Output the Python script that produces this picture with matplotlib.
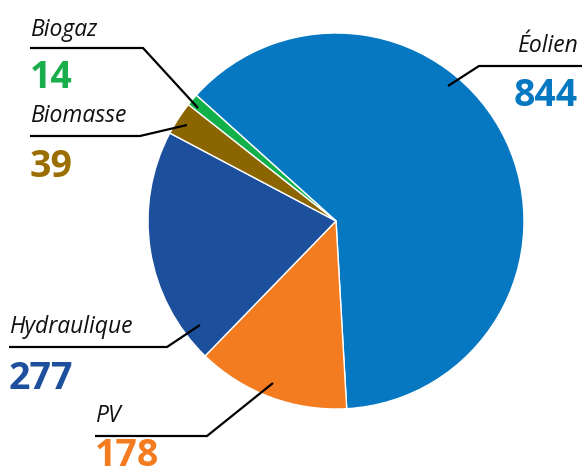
import matplotlib
matplotlib.use('Agg')
import matplotlib.pyplot as plt

# data
labels = ['Éolien', 'PV', 'Hydraulique', 'Biomasse', 'Biogaz']
values = [844, 178, 277, 39, 14]
colors = ['#0677c1', '#f47c20', '#1c4f9c', '#8a6500', '#12b04b']
num_colors = ['#0677c1', '#f47c20', '#1d4f9c', '#9a6e00', '#19ae4b']

W, H = 582, 475
fig = plt.figure(figsize=(W / 100, H / 100), dpi=100)
fig.patch.set_facecolor('white')
ax = fig.add_axes([0, 0, 1, 1])

# pixel coords, y measured from the top
def py(y):
    return H - y

ax.pie(values, colors=colors, startangle=138, counterclock=False,
       center=(336, py(221)), radius=188,
       wedgeprops=dict(edgecolor='white', linewidth=1.0))

ax.set_xlim(0, W)
ax.set_ylim(0, H)
ax.set_aspect('auto')
ax.axis('off')

# label layout: name (x, baseline), number baseline, ha, leader line points
layout = {
    'Éolien':      dict(x=578, name_y=52, num_y=106, ha='right',
                        line=[(582, 66), (479, 66), (448, 86)]),
    'PV':          dict(x=95, name_y=422, num_y=466, ha='left',
                        line=[(95, 436), (207, 436), (273, 383)]),
    'Hydraulique': dict(x=9, name_y=333, num_y=389, ha='left',
                        line=[(9, 347), (167, 347), (200, 325)]),
    'Biomasse':    dict(x=30, name_y=122, num_y=177, ha='left',
                        line=[(30, 136), (140, 136), (187, 125)]),
    'Biogaz':      dict(x=30, name_y=36, num_y=88, ha='left',
                        line=[(30, 48), (143, 48), (198, 108)]),
}

for lab, val, col in zip(labels, values, num_colors):
    d = layout[lab]
    xs = [p[0] for p in d['line']]
    ys = [py(p[1]) for p in d['line']]
    ax.plot(xs, ys, color='black', linewidth=1.6, solid_capstyle='butt',
            solid_joinstyle='miter', clip_on=False)
    ax.text(d['x'], py(d['name_y']), lab, ha=d['ha'], va='baseline',
            fontsize=16.5, fontstyle='italic', family='Open Sans', color='#111111')
    ax.text(d['x'], py(d['num_y']), str(val), ha=d['ha'], va='baseline',
            fontsize=27, fontweight='bold', family='Open Sans', color=col)

plt.savefig('out.png', dpi=100)
plt.close()
